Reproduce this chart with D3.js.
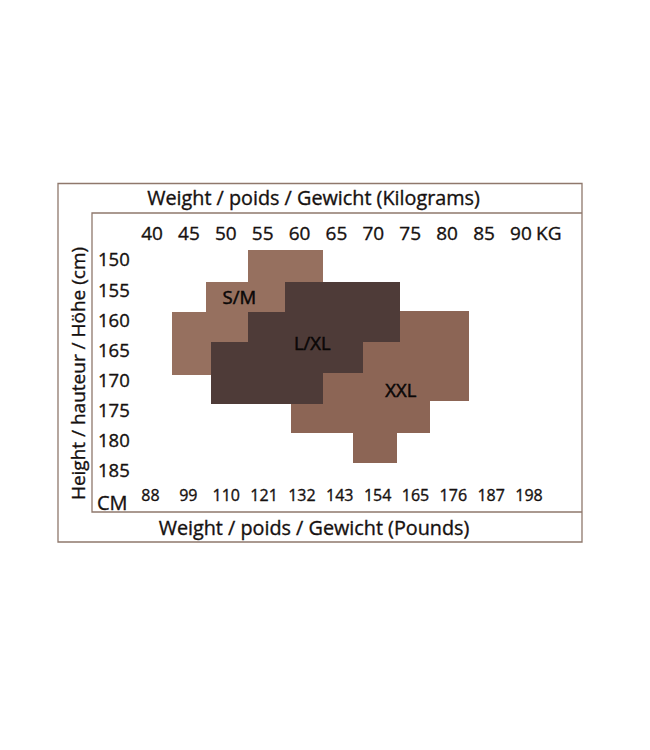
<!DOCTYPE html>
<html>
<head>
<meta charset="utf-8">
<script src="https://cdn.jsdelivr.net/npm/d3@7"></script>
<style>
  html, body { margin: 0; padding: 0; background: #ffffff; }
  svg { display: block; }
  text { font-family: "Open Sans", "Noto Sans", sans-serif; fill: #161110; stroke: #161110; stroke-width: 0.35px; }
</style>
</head>
<body>
<script>
// ---- data ----
const kgTicks = [40, 45, 50, 55, 60, 65, 70, 75, 80, 85, 90];
const lbTicks = [88, 99, 110, 121, 132, 143, 154, 165, 176, 187, 198];
const cmTicks = [150, 155, 160, 165, 170, 175, 180, 185];

// blocks: [kgFrom, kgTo, cmFrom, cmTo]
const smBlocks  = [[53.1, 63.2, 148.3, 153.65], [47.4, 63.2, 153.65, 158.6], [42.8, 53.1, 158.6, 169.1]];
const xxlBlocks = [[58.9, 83.0, 158.5, 173.4], [58.9, 77.7, 173.4, 178.7], [67.3, 73.3, 178.7, 183.7]];
const lxlBlocks = [[58.1, 73.7, 153.65, 158.6], [53.1, 73.7, 158.6, 163.6], [48.1, 68.7, 163.6, 168.7], [48.1, 63.2, 168.7, 173.9]];

const sizeNames  = ["S/M", "XXL", "L/XL"];
const sizeBlocks = [smBlocks, xxlBlocks, lxlBlocks];
const sizeLabelKg = [51.9, 73.8, 61.8];
const sizeLabelCm = [156.3, 171.6, 163.8];
const sizeColors = ["#96705f", "#8c6555", "#4e3b38"];

const W = 650, H = 750;
const svg = d3.select("body").append("svg").attr("width", W).attr("height", H);
svg.append("rect").attr("width", W).attr("height", H).attr("fill", "#ffffff");

const x = d3.scaleLinear().domain([40, 85]).range([151.5, 483.5]);
const xLb = d3.scaleLinear().domain([88, 198]).range([150, 528.5]);
const y = d3.scaleLinear().domain([150, 185]).range([260, 471]);

// frames
const frameColor = "#8f786c";
svg.append("path")
  .attr("d", "M58,183.5 H582 V542 H58 Z")
  .attr("fill", "none").attr("stroke", frameColor).attr("stroke-width", 1.3);
svg.append("path")
  .attr("d", "M582,213 H92 V512 H582")
  .attr("fill", "none").attr("stroke", frameColor).attr("stroke-width", 1.3);

// size blocks
sizeBlocks.forEach((blocks, i) => {
  svg.append("g").selectAll("rect").data(blocks).join("rect")
    .attr("x", d => x(d[0]))
    .attr("y", d => y(d[2]))
    .attr("width", d => x(d[1]) - x(d[0]))
    .attr("height", d => y(d[3]) - y(d[2]))
    .attr("fill", sizeColors[i])
    .attr("shape-rendering", "crispEdges");
});

// size labels
svg.append("g").selectAll("text").data(sizeNames).join("text")
  .attr("x", (d, i) => x(sizeLabelKg[i]))
  .attr("y", (d, i) => y(sizeLabelCm[i]))
  .attr("dy", "0.35em")
  .attr("text-anchor", "middle")
  .attr("font-size", 18.5)
  .style("fill", "#0a0707")
  .style("stroke", "#0a0707")
  .style("stroke-width", "0.5px")
  .text(d => d);

function styleTicks(g, size) {
  g.select(".domain").remove();
  g.selectAll("text").attr("font-size", size).attr("fill", null)
    .style("font-family", '"Open Sans", sans-serif');
}

// kg axis (top)
const kgAxis = d3.axisTop(x).tickValues(kgTicks).tickSize(0).tickPadding(0).tickFormat(d3.format("d"));
const gKg = svg.append("g").attr("transform", "translate(0,240)").call(kgAxis);
styleTicks(gKg, 19);
gKg.selectAll("text").attr("dy", 0);
svg.append("text").attr("x", 536).attr("y", 240).attr("font-size", 19).text("KG");

// cm axis (left)
const cmAxis = d3.axisRight(y).tickValues(cmTicks).tickSize(0).tickPadding(0).tickFormat(d3.format("d"));
const gCm = svg.append("g").attr("transform", "translate(98,0)").call(cmAxis);
styleTicks(gCm, 18.5);
svg.append("text").attr("x", 97).attr("y", 510).attr("font-size", 20).text("CM");

// pounds axis (bottom)
const lbAxis = d3.axisBottom(xLb).tickValues(lbTicks).tickSize(0).tickPadding(0).tickFormat(d3.format("d"));
const gLb = svg.append("g").attr("transform", "translate(0,501)").call(lbAxis);
styleTicks(gLb, 16);
gLb.selectAll("text").attr("dy", 0);

// titles
svg.append("text").attr("x", 313.5).attr("y", 205).attr("text-anchor", "middle")
  .attr("font-size", 19.8).text("Weight / poids / Gewicht (Kilograms)");
svg.append("text").attr("x", 314).attr("y", 535).attr("text-anchor", "middle")
  .attr("font-size", 19.8).text("Weight / poids / Gewicht (Pounds)");
svg.append("text").attr("transform", "translate(85,373.5) rotate(-90)")
  .attr("text-anchor", "middle").attr("font-size", 19)
  .text("Height / hauteur / Höhe (cm)");
</script>
</body>
</html>
